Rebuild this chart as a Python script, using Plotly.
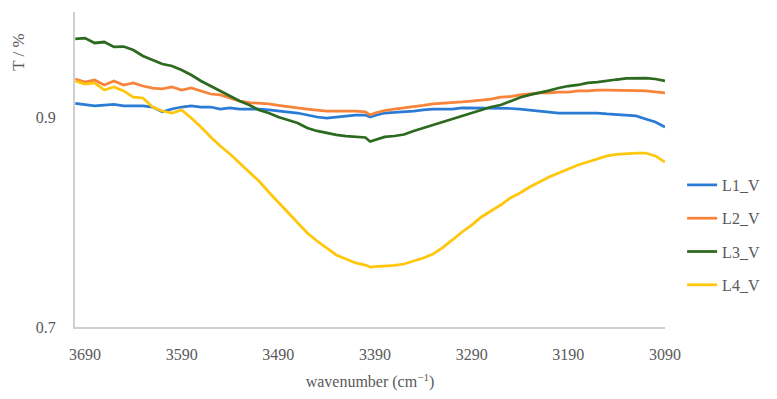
import plotly.graph_objects as go

wavenumber = [3700, 3690, 3680, 3670, 3660, 3650, 3640, 3630, 3620, 3610, 3600, 3590, 3580, 3570, 3560,
              3550, 3540, 3530, 3520, 3510, 3500, 3490, 3480, 3470, 3460, 3450, 3440, 3430, 3420, 3410,
              3400, 3395, 3390, 3380, 3370, 3360, 3350, 3340, 3330, 3320, 3310, 3300, 3290, 3280, 3270,
              3260, 3250, 3240, 3230, 3220, 3210, 3200, 3190, 3180, 3170, 3160, 3150, 3140, 3130, 3120,
              3110, 3100, 3090]

L1_V = [0.913, 0.9119, 0.9105, 0.9114, 0.912, 0.9105, 0.9105, 0.9105, 0.9095, 0.905, 0.9076, 0.9095,
        0.9105, 0.9095, 0.9095, 0.9076, 0.9086, 0.9076, 0.9076, 0.9076, 0.9067, 0.9057, 0.9048, 0.9038,
        0.9019, 0.9, 0.899, 0.9, 0.901, 0.9019, 0.9019, 0.9, 0.9014, 0.9038, 0.9043, 0.9048, 0.9057,
        0.9067, 0.9076, 0.9076, 0.9076, 0.9086, 0.9086, 0.9086, 0.9086, 0.9086, 0.9081, 0.9076, 0.9067,
        0.9057, 0.9048, 0.9038, 0.9038, 0.9038, 0.9038, 0.9038, 0.9029, 0.9024, 0.9019, 0.901, 0.8981,
        0.8952, 0.8905]

L2_V = [0.9362, 0.9333, 0.9352, 0.9305, 0.9343, 0.9305, 0.9324, 0.9295, 0.9276, 0.9267, 0.9286, 0.9257,
        0.9276, 0.9248, 0.9219, 0.921, 0.9181, 0.9152, 0.9138, 0.9133, 0.9124, 0.911, 0.9095, 0.9086,
        0.9076, 0.9067, 0.9057, 0.9057, 0.9057, 0.9057, 0.9048, 0.9019, 0.9038, 0.9062, 0.9076, 0.9086,
        0.9095, 0.911, 0.9124, 0.9129, 0.9133, 0.9143, 0.9152, 0.9162, 0.9171, 0.919, 0.9195, 0.921,
        0.9219, 0.9229, 0.9229, 0.9238, 0.9238, 0.9248, 0.9248, 0.9257, 0.9257, 0.9257, 0.9257, 0.9252,
        0.9248, 0.9238, 0.9229]

L3_V = [0.9743, 0.9752, 0.9705, 0.9714, 0.9667, 0.9671, 0.9638, 0.9581, 0.9543, 0.9505, 0.9486, 0.9448,
        0.94, 0.9343, 0.9295, 0.9248, 0.92, 0.9152, 0.9114, 0.9067, 0.9038, 0.9, 0.8971, 0.8943, 0.8895,
        0.8867, 0.8848, 0.8829, 0.8819, 0.881, 0.8805, 0.8767, 0.8781, 0.881, 0.8819, 0.8833, 0.8867,
        0.8895, 0.8924, 0.8952, 0.8986, 0.901, 0.9038, 0.9067, 0.9095, 0.9114, 0.9152, 0.9186, 0.921,
        0.9229, 0.9252, 0.9276, 0.9295, 0.9305, 0.9324, 0.9333, 0.9348, 0.9357, 0.9367, 0.9371, 0.9371,
        0.9362, 0.9343]

L4_V = [0.9343, 0.9314, 0.9324, 0.9257, 0.9286, 0.9248, 0.919, 0.9181, 0.9095, 0.9057, 0.9038, 0.9067,
        0.899, 0.8905, 0.881, 0.8724, 0.8648, 0.8562, 0.8476, 0.839, 0.8286, 0.819, 0.8086, 0.799,
        0.7895, 0.7819, 0.7752, 0.7686, 0.7648, 0.761, 0.759, 0.7571, 0.7576, 0.7581, 0.7586, 0.76,
        0.7629, 0.7657, 0.7695, 0.7757, 0.7829, 0.7905, 0.7971, 0.8048, 0.8105, 0.8162, 0.8229, 0.8276,
        0.8333, 0.8381, 0.8429, 0.8467, 0.8505, 0.8543, 0.8571, 0.86, 0.8629, 0.8643, 0.8652, 0.8657,
        0.8657, 0.8629, 0.8571]

series_names = ["L1_V", "L2_V", "L3_V", "L4_V"]
series_values = [L1_V, L2_V, L3_V, L4_V]
colors = ["#2a7bd5", "#f8843a", "#2c6a1f", "#ffc60a"]

x_ticks = [3690, 3590, 3490, 3390, 3290, 3190, 3090]
y_ticks = [0.7, 0.9]

FONT = "Liberation Serif"
GREY = "#595959"

fig = go.Figure()
for i, (name, vals, col) in enumerate(zip(series_names, series_values, colors)):
    fig.add_trace(go.Scatter(x=wavenumber, y=vals, mode="lines", name=name,
                             line=dict(color=col, width=2.75), legendgroup=name))

fig.update_layout(
    width=777, height=399,
    margin=dict(l=75, r=110, t=12, b=72),
    paper_bgcolor="white", plot_bgcolor="white",
    font=dict(family=FONT, size=16, color=GREY),
    showlegend=True,
    legend=dict(x=1.029, xanchor="left", y=(327-235)/315, yanchor="middle",
                font=dict(family=FONT, size=16, color=GREY),
                tracegroupgap=9.5, bgcolor="rgba(0,0,0,0)"),
    xaxis=dict(range=[3700.3, 3090], tickvals=x_ticks, ticktext=[str(v) for v in x_ticks],
               showgrid=False, zeroline=False, showline=True, linecolor="#d0d0d0", linewidth=2,
               ticks="", ticklabelstandoff=12,
               title=dict(text="wavenumber (cm<sup>−1</sup>)", standoff=14,
                          font=dict(family=FONT, size=16, color=GREY))),
    yaxis=dict(range=[0.7, 1.0], tickvals=y_ticks, ticktext=["0.7", "0.9"],
               showgrid=False, zeroline=False, showline=True, linecolor="#d0d0d0", linewidth=2,
               ticks="", ticklabelstandoff=14),
    annotations=[dict(text="T / %", xref="paper", yref="paper", x=-69/592, y=(327-52)/315,
                      xanchor="left", yanchor="middle", showarrow=False, textangle=-90,
                      font=dict(family=FONT, size=17, color=GREY))],
)

fig.write_html("out.html")
